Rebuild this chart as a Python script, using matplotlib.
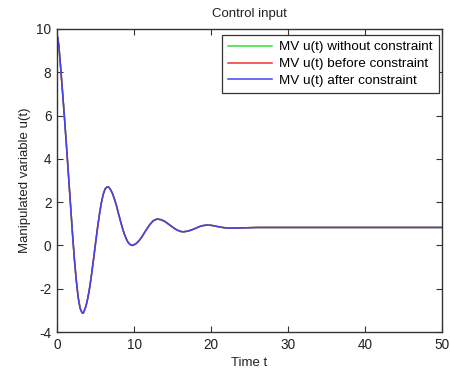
import matplotlib
matplotlib.use("Agg")
import matplotlib.pyplot as plt

t = [0, 0.1, 0.25, 0.5, 0.75, 1.0, 1.25, 1.5, 1.75, 2.0, 2.25, 2.5, 2.75, 3.0, 3.25, 3.4,
     3.5, 3.75, 4.0, 4.25, 4.5, 4.75, 5.0, 5.25, 5.5, 5.75, 6.0, 6.25, 6.5, 6.6, 6.75,
     7.0, 7.25, 7.5, 7.75, 8.0, 8.25, 8.5, 8.75, 9.0, 9.25, 9.5, 9.8, 10.0, 10.25, 10.5,
     10.75, 11.0, 11.5, 12.0, 12.5, 13.0, 13.5, 14.0, 14.5, 15.0, 15.5, 16.0, 16.4,
     17.0, 17.5, 18.0, 18.5, 19.0, 19.5, 20.0, 20.5, 21.0, 21.5, 22.0, 22.5, 23.0,
     24.0, 25.0, 26.0, 28.0, 30.0, 35.0, 40.0, 45.0, 50.0]
u = [9.7, 9.6, 9.2, 8.1, 6.95, 5.75, 4.5, 3.2, 1.9, 0.6, -0.6, -1.6, -2.4, -2.9, -3.11, -3.13,
     -3.06, -2.82, -2.44, -1.93, -1.31, -0.62, 0.08, 0.78, 1.41, 1.95, 2.36, 2.61, 2.7, 2.71, 2.68,
     2.55, 2.36, 2.1, 1.8, 1.45, 1.12, 0.8, 0.52, 0.3, 0.13, 0.04, 0.0, 0.03, 0.08, 0.16,
     0.26, 0.38, 0.67, 0.94, 1.14, 1.22, 1.19, 1.11, 0.98, 0.85, 0.73, 0.65, 0.63,
     0.66, 0.72, 0.79, 0.87, 0.92, 0.94, 0.93, 0.9, 0.86, 0.83, 0.81, 0.80, 0.80,
     0.81, 0.82, 0.83, 0.83, 0.83, 0.83, 0.83, 0.83, 0.83]

labels = ["MV u(t) without constraint", "MV u(t) before constraint", "MV u(t) after constraint"]
colors = ["#33dd33", "#ee3333", "#4444ee"]
xticks = [0, 10, 20, 30, 40, 50]
yticks = [-4, -2, 0, 2, 4, 6, 8, 10]

plt.rcParams['font.family'] = ['Liberation Sans', 'DejaVu Sans']
plt.rcParams['font.size'] = 9.5
plt.rcParams['axes.unicode_minus'] = False

fig = plt.figure(figsize=(4.5, 3.72), dpi=100)
ax = fig.add_axes([57/450, 40/372, 385/450, 303/372])
for lab, c in zip(labels, colors):
    ax.plot(t, u, color=c, lw=1.1, label=lab)

ax.set_xlim(0, 50)
ax.set_ylim(-4, 10)
ax.set_xticks(xticks)
ax.set_yticks(yticks)
ax.tick_params(direction='in', length=4, width=0.8, top=True, right=True,
               colors='#333333', labelcolor='#222222', labelsize=9.8, pad=4)
for s in ax.spines.values():
    s.set_color('#333333')
    s.set_linewidth(1.0)

ax.set_title("Control input", fontsize=9.5, color='#222222', pad=9)
ax.set_xlabel("Time t", fontsize=9.5, color='#222222', labelpad=4)
ax.set_ylabel("Manipulated variable u(t)", fontsize=9.5, color='#222222', labelpad=4)

leg = ax.legend(loc='upper right', bbox_to_anchor=((439-57)/385, (332-35)/303),
                borderaxespad=0, handlelength=3.3, handletextpad=0.55,
                labelspacing=0.32, borderpad=0.45, fancybox=False, framealpha=1,
                fontsize=9.7)
leg.get_frame().set_edgecolor('#333333')
leg.get_frame().set_linewidth(0.9)

fig.savefig("out.png", dpi=100)
